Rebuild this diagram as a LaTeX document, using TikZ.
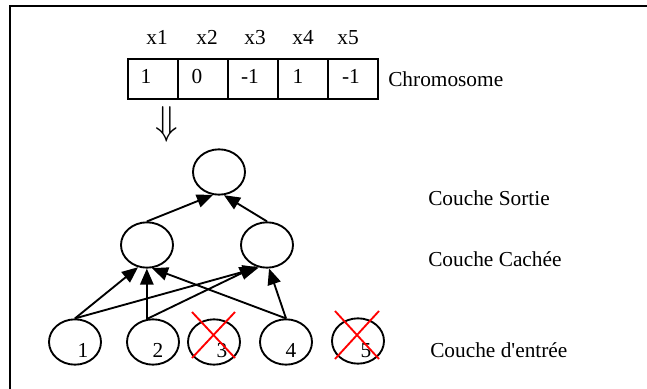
\documentclass[tikz,border=0pt]{standalone}
\usepackage{fontspec}
\setmainfont{Liberation Serif}
\usetikzlibrary{shapes.geometric,arrows.meta}
\begin{document}
\begin{tikzpicture}[x=0.75pt,y=-0.75pt,
 every node/.style={font=\fontsize{16}{19}\selectfont},
 neuron/.style={ellipse,draw,line width=1.4pt,minimum width=39pt,minimum height=34pt,inner sep=0pt},
 cell/.style={rectangle,draw,line width=1.5pt,minimum width=37.5pt,minimum height=30pt,inner sep=0pt},
 conn/.style={line width=1.4pt,-{Triangle[length=12pt,width=10pt]}},
 cross/.style={red,line width=1.4pt},
 txt/.style={inner sep=0pt,anchor=base}]
\useasboundingbox (0,0) rectangle (647,389);
\coordinate (fa) at (10,389);
\coordinate (fb) at (10,6);
\coordinate (fc) at (647,6);
\draw[line width=1.5pt] (fa) -- (fb) -- (fc);

% chromosome
\node[cell] (c1) at (153,79) {};
\node[cell] (c2) at (203,79) {};
\node[cell] (c3) at (253,79) {};
\node[cell] (c4) at (303,79) {};
\node[cell] (c5) at (353,79) {};
\node[txt] (v1) at (146,83) {1};
\node[txt] (v2) at (197,83) {0};
\node[txt] (v3) at (250,83) {-1};
\node[txt] (v4) at (298,83) {1};
\node[txt] (v5) at (351,83) {-1};
\node[txt] (l1) at (157,45) {x1};
\node[txt] (l2) at (207,45) {x2};
\node[txt] (l3) at (255,45) {x3};
\node[txt] (l4) at (303,45) {x4};
\node[txt] (l5) at (348,45) {x5};
\node[txt,anchor=base west] (chr) at (388,86) {Chromosome};
\node[inner sep=0pt,xscale=1.6,yscale=1.75] (dn) at (167,124) {$\Downarrow$};

% network
\node[neuron] (o) at (219,172) {};
\node[neuron] (h1) at (147,245) {};
\node[neuron] (h2) at (267,245) {};
\node[neuron] (i1) at (75,342) {};
\node[neuron] (i2) at (153,342) {};
\node[neuron] (i3) at (214,342) {};
\node[neuron] (i4) at (286,342) {};
\node[neuron] (i5) at (358,341) {};
\node[txt] (n1) at (83,357) {1};
\node[txt] (n2) at (158,357) {2};
\node[txt] (n3) at (222,357) {3};
\node[txt] (n4) at (291,357) {4};
\node[txt] (n5) at (366,357) {5};

\draw[conn] (h1.north) -- (o.-105);
\draw[conn] (h2.north) -- (o.-78);
\draw[conn] (i1.north) -- (h1.-112);
\draw[conn] (i1.north) -- (h2.-110);
\draw[conn] (i2.105) -- (i2.105 |- h1.south);
\draw[conn] (i2.105) -- (h2.-118);
\draw[conn] (i4.north) -- (h1.-78);
\draw[conn] (i4.north) -- (h2.-85);

\draw[cross] ([shift={(-22,-30)}]i3.center) -- ([shift={(21,16)}]i3.center);
\draw[cross] ([shift={(21,-30)}]i3.center) -- ([shift={(-22,16)}]i3.center);
\draw[cross] ([shift={(-23,-30)}]i5.center) -- ([shift={(21,18)}]i5.center);
\draw[cross] ([shift={(21,-30)}]i5.center) -- ([shift={(-23,18)}]i5.center);

\node[txt,anchor=base west] (ls) at (428,205.7) {Couche Sortie};
\node[txt,anchor=base west] (lc) at (428,266.7) {Couche Cachée};
\node[txt,anchor=base west] (le) at (430,357) {Couche d\textquotesingle entrée};
\end{tikzpicture}
\end{document}
